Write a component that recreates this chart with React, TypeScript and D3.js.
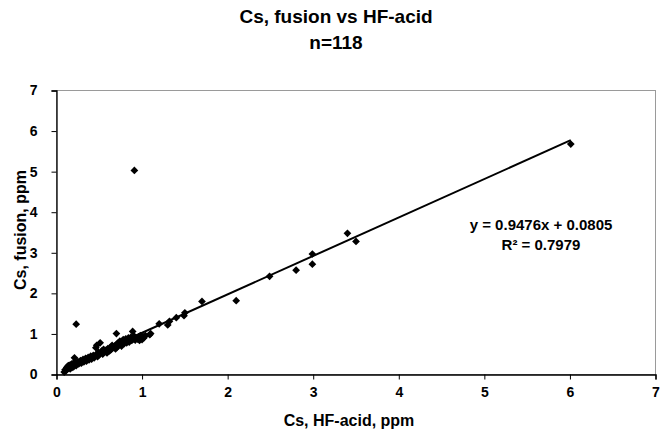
import { useEffect, useRef } from "react";
import * as d3 from "d3";

// Cs by HF-acid digestion (x) vs fusion (y), ppm
const hfAcid = [
  6.01, 3.5, 3.4, 2.99, 2.99, 2.8, 2.49, 2.1, 1.7, 1.5, 1.49, 1.4, 1.32, 1.3, 1.2, 1.1, 1.09, 0.91, 0.23, 0.21,
  0.89, 0.7, 0.51, 0.46, 0.09, 0.1, 0.11, 0.12, 0.12, 0.13, 0.14, 0.14, 0.15, 0.16, 0.16, 0.17, 0.18, 0.18, 0.19,
  0.2, 0.2, 0.21, 0.22, 0.23, 0.24, 0.25, 0.26, 0.27, 0.28, 0.29, 0.3, 0.31, 0.32, 0.33, 0.34, 0.35, 0.36, 0.37,
  0.38, 0.39, 0.4, 0.41, 0.42, 0.43, 0.44, 0.45, 0.47, 0.48, 0.49, 0.5, 0.52, 0.53, 0.54, 0.55, 0.56, 0.58, 0.59,
  0.6, 0.62, 0.63, 0.64, 0.65, 0.66, 0.68, 0.69, 0.7, 0.71, 0.72, 0.73, 0.74, 0.75, 0.76, 0.77, 0.78, 0.79, 0.8,
  0.81, 0.82, 0.83, 0.84, 0.85, 0.86, 0.87, 0.88, 0.9, 0.91, 0.92, 0.93, 0.95, 0.96, 0.97, 0.98, 0.99, 1.0, 1.01,
  1.02, 1.04, 0.47,
];
const fusion = [
  5.68, 3.28, 3.48, 2.97, 2.72, 2.57, 2.42, 1.82, 1.8, 1.52, 1.45, 1.4, 1.31, 1.22, 1.25, 1.01, 0.98, 5.03, 1.24, 0.41,
  1.06, 1.01, 0.78, 0.66, 0.06, 0.12, 0.09, 0.17, 0.13, 0.2, 0.15, 0.22, 0.18, 0.24, 0.14, 0.2, 0.26, 0.17, 0.23,
  0.28, 0.19, 0.25, 0.3, 0.22, 0.27, 0.32, 0.26, 0.3, 0.34, 0.28, 0.33, 0.37, 0.31, 0.35, 0.4, 0.33, 0.38, 0.42,
  0.36, 0.4, 0.45, 0.38, 0.43, 0.47, 0.41, 0.46, 0.5, 0.44, 0.55, 0.49, 0.53, 0.58, 0.5, 0.62, 0.56, 0.6, 0.53,
  0.64, 0.58, 0.67, 0.62, 0.72, 0.66, 0.7, 0.63, 0.74, 0.68, 0.78, 0.72, 0.82, 0.76, 0.7, 0.8, 0.86, 0.76, 0.82,
  0.88, 0.78, 0.84, 0.9, 0.8, 0.86, 0.92, 0.84, 0.88, 0.94, 0.85, 0.9, 0.87, 0.93, 0.84, 0.96, 0.89, 0.86, 0.94,
  0.9, 0.96, 0.72,
];
const xTicks = [0, 1, 2, 3, 4, 5, 6, 7];
const yTicks = [0, 1, 2, 3, 4, 5, 6, 7];
const slope = 0.9476;
const intercept = 0.0805;
const equationLines = ["y = 0.9476x + 0.0805", "R² = 0.7979"];

const W = 662;
const H = 431;
const FONT = "'Liberation Sans', Arial, sans-serif";

export default function App() {
  const svgRef = useRef<SVGSVGElement | null>(null);

  useEffect(() => {
    const root = d3.select(svgRef.current);
    root.selectAll("*").remove();

    const x = d3.scaleLinear().domain([0, 7]).range([56.5, 655.5]);
    const y = d3.scaleLinear().domain([0, 7]).range([374.5, 90.5]);

    const pts = hfAcid.map((v, i) => ({ x: v, y: fusion[i] }));

    // plot frame
    root.append("rect")
      .attr("x", x(0)).attr("y", y(7))
      .attr("width", x(7) - x(0)).attr("height", y(0) - y(7))
      .attr("fill", "none").attr("stroke", "#9a9a9a").attr("stroke-width", 1);

    const fmt = d3.format("d");
    const xAxis = root.append("g")
      .attr("transform", `translate(0,${y(0)})`)
      .call(d3.axisBottom(x).tickValues(xTicks).tickFormat(fmt).tickSize(5).tickPadding(8));
    const yAxis = root.append("g")
      .attr("transform", `translate(${x(0)},0)`)
      .call(d3.axisLeft(y).tickValues(yTicks).tickFormat(fmt).tickSize(5).tickPadding(14));
    [xAxis, yAxis].forEach((g) => {
      g.select(".domain").attr("stroke", "#000").attr("stroke-width", 1.3);
      g.selectAll(".tick line").attr("stroke", "#000");
      g.selectAll("text")
        .attr("fill", "#000")
        .style("font-family", FONT)
        .style("font-size", "14px")
        .style("font-weight", "bold");
    });

    // trend line
    const xMin = d3.min(hfAcid) as number;
    const xMax = d3.max(hfAcid) as number;
    root.append("line")
      .attr("x1", x(xMin)).attr("y1", y(slope * xMin + intercept))
      .attr("x2", x(xMax)).attr("y2", y(slope * xMax + intercept))
      .attr("stroke", "#000").attr("stroke-width", 2);

    const diamond = d3.symbol(d3.symbolSquare, 30)();
    root.append("g")
      .selectAll("path")
      .data(pts)
      .join("path")
      .attr("d", diamond)
      .attr("transform", (d) => `translate(${x(d.x)},${y(d.y)}) rotate(45)`)
      .attr("fill", "#000");

    const txt = (s: string, px: number, py: number, size: number, rot = 0) =>
      root.append("text")
        .attr("transform", `translate(${px},${py}) rotate(${rot})`)
        .attr("text-anchor", "middle")
        .style("font-family", FONT)
        .style("font-size", `${size}px`)
        .style("font-weight", "bold")
        .text(s);

    txt("Cs, fusion vs HF-acid", 336, 23, 19);
    txt("n=118", 336, 49, 19);
    txt("Cs, HF-acid, ppm", 349, 426, 16);
    txt("Cs, fusion, ppm", 26, 230, 16, -90);
    txt(equationLines[0], 541, 230, 15);
    txt(equationLines[1], 541, 250, 15);
  }, []);

  return (
    <svg
      ref={svgRef}
      width={W}
      height={H}
      style={{ position: "absolute", left: 0, top: 0, background: "#fff" }}
    />
  );
}
